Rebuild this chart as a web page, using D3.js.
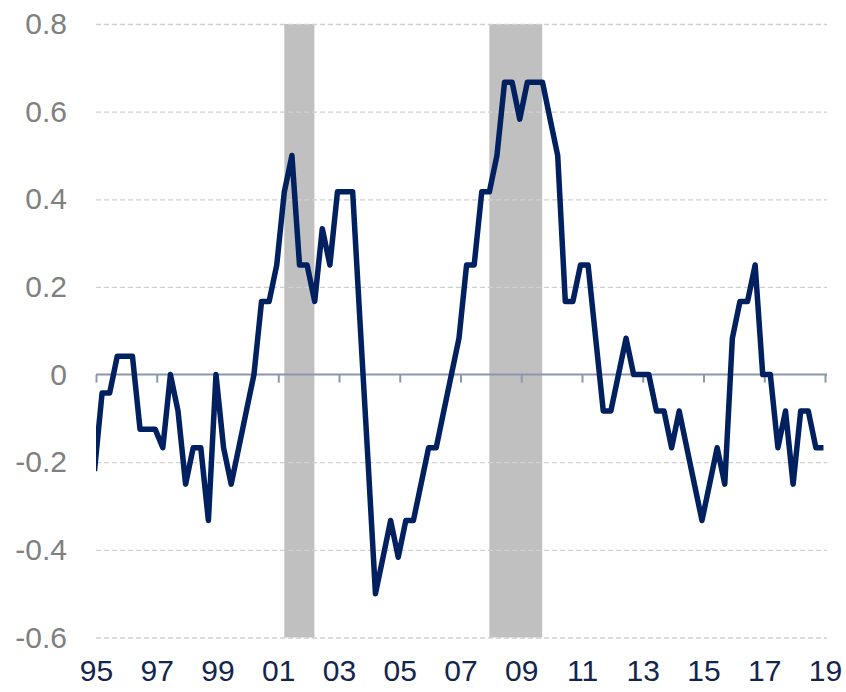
<!DOCTYPE html>
<html>
<head>
<meta charset="utf-8">
<script src="https://cdn.jsdelivr.net/npm/d3@7"></script>
<style>
  body { margin: 0; background: #fff; }
  svg { display: block; font-family: "Liberation Sans", Arial, sans-serif; }
</style>
</head>
<body>
<svg width="846" height="692"></svg>
<script>
  // quarterly values, first point sits just before the 1995 tick
  const firstQuarter = 1994.95;
  const values = [
    -0.22, -0.042, -0.042, 0.042, 0.042, 0.042, -0.125, -0.125, -0.125, -0.167,
    0, -0.083, -0.25, -0.167, -0.167, -0.333, 0, -0.167, -0.25, -0.167,
    -0.083, 0, 0.167, 0.167, 0.25, 0.417, 0.5, 0.25, 0.25, 0.167,
    0.333, 0.25, 0.417, 0.417, 0.417, 0.11, -0.19, -0.5, -0.417, -0.333,
    -0.417, -0.333, -0.333, -0.25, -0.167, -0.167, -0.083, 0, 0.083, 0.25,
    0.25, 0.417, 0.417, 0.5, 0.667, 0.667, 0.583, 0.667, 0.667, 0.667,
    0.583, 0.5, 0.167, 0.167, 0.25, 0.25, 0.083, -0.083, -0.083, 0,
    0.083, 0, 0, 0, -0.083, -0.083, -0.167, -0.083, -0.167, -0.25,
    -0.333, -0.25, -0.167, -0.25, 0.083, 0.167, 0.167, 0.25, 0, 0,
    -0.167, -0.083, -0.25, -0.083, -0.083, -0.167, -0.167
  ];
  const recessions = [[2001.2, 2002.19], [2007.95, 2009.69]];
  const xTicks = [1995, 1997, 1999, 2001, 2003, 2005, 2007, 2009, 2011, 2013, 2015, 2017, 2019];
  const yTicks = [-0.6, -0.4, -0.2, 0, 0.2, 0.4, 0.6, 0.8];

  const data = values.map((v, i) => ({ t: firstQuarter + i / 4, v: v }));

  const svg = d3.select('svg');

  const x = d3.scaleLinear().domain([1995, 2019]).range([96, 825]);
  const y = d3.scaleLinear().domain([-0.6, 0.8]).range([637.5, 24]);

  // recession shading
  svg.append('g')
    .selectAll('rect')
    .data(recessions)
    .enter().append('rect')
      .attr('x', d => x(d[0]))
      .attr('width', d => x(d[1]) - x(d[0]))
      .attr('y', y(0.8))
      .attr('height', y(-0.6) - y(0.8))
      .attr('fill', '#c0c0c0');

  // gridlines + y labels
  const yAxis = svg.append('g')
    .attr('transform', `translate(${x(1995)},0)`)
    .call(d3.axisLeft(y)
      .tickValues(yTicks)
      .tickSize(-(x(2019) - x(1995) + 2))
      .tickPadding(29)
      .tickFormat(d => Math.abs(d) < 1e-9 ? '0' : d.toFixed(1)));
  yAxis.select('.domain').remove();
  yAxis.selectAll('line')
    .attr('stroke', '#d0d0d0')
    .attr('stroke-width', 1.3)
    .attr('stroke-dasharray', '5,3')
    .filter(d => Math.abs(d) < 1e-9).remove();
  yAxis.selectAll('text')
    .attr('fill', '#808080')
    .attr('font-size', 30)
    .attr('font-family', '"Liberation Sans", Arial, sans-serif');

  // zero axis with year ticks, labels pushed to the bottom
  const xAxis = svg.append('g')
    .attr('transform', `translate(0,${y(0)})`)
    .call(d3.axisBottom(x)
      .tickValues(xTicks)
      .tickSizeInner(8)
      .tickSizeOuter(0)
      .tickPadding(y(-0.6) - y(0) + 14)
      .tickFormat(d => String(d % 100).padStart(2, '0')));
  xAxis.select('.domain')
    .attr('d', `M${x(1995)},0H${x(2019) + 2}`)
    .attr('stroke', '#8c96ac')
    .attr('stroke-width', 2);
  xAxis.selectAll('line')
    .attr('stroke', '#8c96ac')
    .attr('stroke-width', 2);
  xAxis.selectAll('text')
    .attr('fill', '#14254d')
    .attr('font-size', 30)
    .attr('font-family', '"Liberation Sans", Arial, sans-serif');

  // line
  svg.append('clipPath').attr('id', 'plot')
    .append('rect')
      .attr('x', x(1995)).attr('y', 0)
      .attr('width', x(2019) - x(1995) + 4).attr('height', 692);

  const line = d3.line()
    .x(d => x(d.t))
    .y(d => y(d.v));

  svg.append('path')
    .datum(data)
    .attr('clip-path', 'url(#plot)')
    .attr('fill', 'none')
    .attr('stroke', '#002060')
    .attr('stroke-width', 5.5)
    .attr('stroke-linejoin', 'round')
    .attr('d', line);
</script>
</body>
</html>
